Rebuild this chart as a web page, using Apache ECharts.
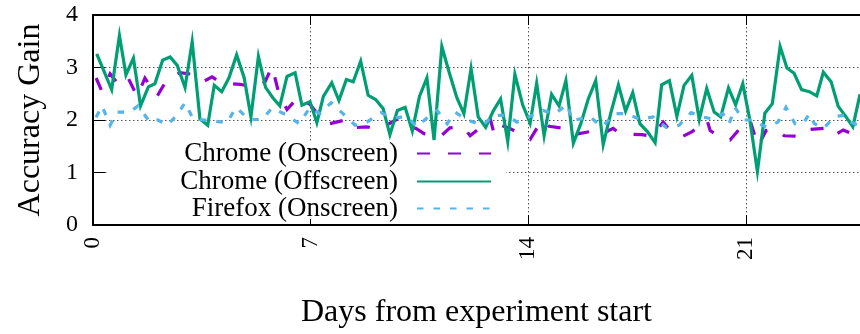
<!DOCTYPE html>
<html><head><meta charset="utf-8">
<script src="https://cdn.jsdelivr.net/npm/echarts@6/dist/echarts.min.js"></script>
<style>html,body{margin:0;padding:0;background:#fff}#c{width:860px;height:334px}</style>
</head><body><div id="c"></div><script>
const xTickLabels = [0, 7, 14, 21];
const yTickLabels = [0, 1, 2, 3, 4];
const seriesNames = ['Chrome (Onscreen)', 'Chrome (Offscreen)', 'Firefox (Onscreen)'];

const onDays = [0.10,0.29,0.55,0.84,1.13,1.42,1.67,2.06,2.41,2.80,3.22,3.51,3.83,4.15,4.73,5.24,5.53,5.76,5.98,6.24,6.59,6.98,7.24,7.62,8.11,8.33,8.78,9.23,9.81,10.00,10.39,10.65,11.16,11.48,11.90,12.13,12.51,12.77,12.90,13.03,13.41,14.06,14.44,14.67,15.18,15.44,15.99,16.24,16.73,16.95,17.66,17.98,18.34,18.56,18.98,19.27,19.75,19.85,20.23,20.49,20.84,21.13,21.39,21.65,21.94,22.23,22.87,23.07,23.52,23.78,24.13,24.36,24.67];
const onVals = [2.80,2.54,2.88,2.66,2.80,2.45,2.80,2.45,2.80,2.90,2.87,2.72,2.82,2.70,2.68,2.62,2.72,3.02,2.50,2.20,2.43,2.30,2.10,1.93,2.00,1.85,1.87,1.84,2.02,1.93,1.84,1.74,1.68,1.85,1.88,1.70,1.88,2.04,1.74,1.92,1.84,1.63,2.00,1.88,1.84,1.72,1.78,1.70,1.84,1.74,1.72,1.69,1.96,1.80,1.69,1.78,2.00,1.80,1.65,1.62,1.86,2.00,1.50,1.80,1.84,1.70,1.69,1.82,1.84,1.69,1.81,1.75,1.70];

const offDays = [0.12,0.60,0.85,1.06,1.30,1.53,1.78,1.99,2.24,2.48,2.71,2.96,3.19,3.44,3.69,3.90,4.14,4.37,4.62,4.86,5.08,5.32,5.55,5.79,6.01,6.24,6.50,6.72,6.98,7.20,7.41,7.68,7.91,8.15,8.37,8.61,8.85,9.09,9.33,9.55,9.79,10.04,10.27,10.50,10.74,10.97,11.22,11.46,11.70,11.93,12.16,12.39,12.63,12.88,13.11,13.34,13.57,13.82,14.06,14.27,14.51,14.75,14.99,15.21,15.45,15.69,15.93,16.17,16.41,16.65,16.90,17.13,17.36,17.59,17.83,18.08,18.29,18.54,18.78,19.01,19.26,19.50,19.74,19.98,20.19,20.44,20.67,20.90,21.13,21.37,21.61,21.85,22.10,22.32,22.55,22.79,23.04,23.28,23.49,23.74,23.97,24.21,24.44,24.67];
const offVals = [3.26,2.58,3.61,2.86,3.18,2.27,2.63,2.69,3.14,3.20,3.04,2.62,3.49,2.02,1.90,2.66,2.54,2.80,3.24,2.81,2.06,3.21,2.62,2.42,2.27,2.83,2.90,2.28,2.35,1.95,2.45,2.71,2.37,2.77,2.73,3.12,2.47,2.39,2.22,1.72,2.18,2.24,1.79,2.45,2.80,1.62,3.40,2.90,2.43,2.12,2.98,2.06,1.86,2.18,2.40,1.59,2.87,2.29,1.94,2.70,1.70,2.49,2.27,2.75,1.56,1.93,2.40,2.75,1.53,2.12,2.67,2.17,2.52,1.93,1.78,1.57,2.67,2.75,2.07,2.66,2.85,2.01,2.60,2.15,2.06,2.61,2.29,2.69,1.99,1.02,2.13,2.31,3.40,2.99,2.89,2.58,2.54,2.46,2.91,2.73,2.26,2.07,1.87,2.49];

const ffDays = [0.10,0.29,0.55,0.77,1.19,1.45,1.83,2.09,2.38,2.70,2.96,3.22,3.60,4.31,4.60,5.02,5.44,5.76,6.21,6.63,6.98,7.30,7.66,8.04,8.43,8.81,9.26,9.62,10.10,10.42,10.78,11.07,11.39,11.64,12.03,12.54,12.87,13.32,13.64,14.03,14.47,14.86,15.25,15.41,15.66,15.99,16.37,16.79,17.18,17.59,18.01,18.43,18.85,19.24,19.59,19.94,20.26,20.46,20.65,20.91,21.16,21.68,22.03,22.29,22.58,22.84,23.04,23.20,23.49,23.87,24.20,24.39,24.67];
const ffVals = [2.05,2.27,1.90,2.15,2.15,2.27,1.96,2.00,1.90,2.09,2.33,2.02,2.00,1.95,2.24,2.01,2.01,2.23,2.10,1.93,2.24,2.12,2.33,2.12,1.90,1.96,2.14,2.04,2.06,1.87,2.06,2.18,1.93,2.15,2.00,1.90,2.09,2.09,1.96,2.06,2.18,2.12,2.30,1.99,2.02,2.06,1.87,2.12,2.12,2.01,2.06,1.86,1.90,2.14,2.06,2.02,2.12,1.93,2.24,2.00,2.00,1.86,1.96,2.24,1.93,1.93,2.12,1.93,1.84,2.07,2.09,1.96,1.88];

const pair = (xs, ys) => xs.map((x, i) => [x, ys[i]]);
const FONT = 'Liberation Serif';
const colors = ['#9400D3', '#009E73', '#56B4E9'];
const dashes = [[13, 18], 'solid', [6.5, 10]];
const XMAX = 24.67;

const chart = echarts.init(document.getElementById('c'), null, {renderer: 'canvas'});

function mkLegend(i, top) {
  return {
    data: [seriesNames[i]], right: 368, top: top, orient: 'horizontal', align: 'right',
    padding: 0, itemWidth: 74, itemHeight: 14, selectedMode: false,
    itemStyle: {opacity: 0, borderWidth: 0},
    textStyle: {fontFamily: FONT, fontSize: 27, color: '#000', lineHeight: 27, padding: [0, 14, 0, 0]},
    z: 10
  };
}

const option = {
  animation: false,
  backgroundColor: '#fff',
  grid: {left: 93, right: 0, top: 15, bottom: 103, containLabel: false},
  graphic: [{type: 'rect', z: 1, shape: {x: 108, y: 141, width: 398, height: 78}, style: {fill: '#fff'}}],
  legend: [mkLegend(0, 140), mkLegend(1, 168), mkLegend(2, 195)],
  xAxis: [{
    type: 'value', min: 0, max: XMAX, interval: 7, position: 'bottom',
    name: 'Days from experiment start', nameLocation: 'middle', nameGap: 72,
    nameTextStyle: {fontFamily: FONT, fontSize: 32, color: '#000'},
    axisLine: {show: true, lineStyle: {color: '#000', width: 2}},
    axisTick: {show: true, inside: true, length: 10, lineStyle: {color: '#000', width: 1}},
    axisLabel: {rotate: 90, margin: 12, fontFamily: FONT, fontSize: 23, color: '#000', showMaxLabel: false,
      formatter: v => xTickLabels.includes(v) ? String(v) : ''},
    splitLine: {show: true, lineStyle: {color: '#555', width: 1, type: [1.5, 2.5]}}
  }, {
    type: 'value', min: 0, max: XMAX, interval: 7, position: 'top',
    axisLine: {show: true, lineStyle: {color: '#000', width: 2}},
    axisTick: {show: true, inside: true, length: 10, lineStyle: {color: '#000', width: 1}},
    axisLabel: {show: false}, splitLine: {show: false}
  }],
  yAxis: {
    type: 'value', min: 0, max: 4, interval: 1,
    name: 'Accuracy Gain', nameLocation: 'middle', nameGap: 46, nameRotate: 90,
    nameTextStyle: {fontFamily: FONT, fontSize: 32, color: '#000'},
    axisLine: {show: true, lineStyle: {color: '#000', width: 2}},
    axisTick: {show: true, inside: true, length: 12, lineStyle: {color: '#000', width: 1}},
    axisLabel: {margin: 15, fontFamily: FONT, fontSize: 24, color: '#000',
      formatter: v => yTickLabels.includes(v) ? String(v) : ''},
    splitLine: {show: true, lineStyle: {color: '#555', width: 1, type: [1.5, 2.5]}}
  },
  series: [
    {name: seriesNames[0], type: 'line', data: pair(onDays, onVals)},
    {name: seriesNames[1], type: 'line', data: pair(offDays, offVals)},
    {name: seriesNames[2], type: 'line', data: pair(ffDays, ffVals)}
  ].map((s, i) => Object.assign(s, {
    xAxisIndex: 0, symbol: 'none', z: 3 + i, clip: true,
    lineStyle: {color: colors[i], width: 3.2, type: dashes[i], cap: 'butt', join: 'miter'},
    itemStyle: {color: colors[i]}
  }))
};
chart.setOption(option);
</script></body></html>
